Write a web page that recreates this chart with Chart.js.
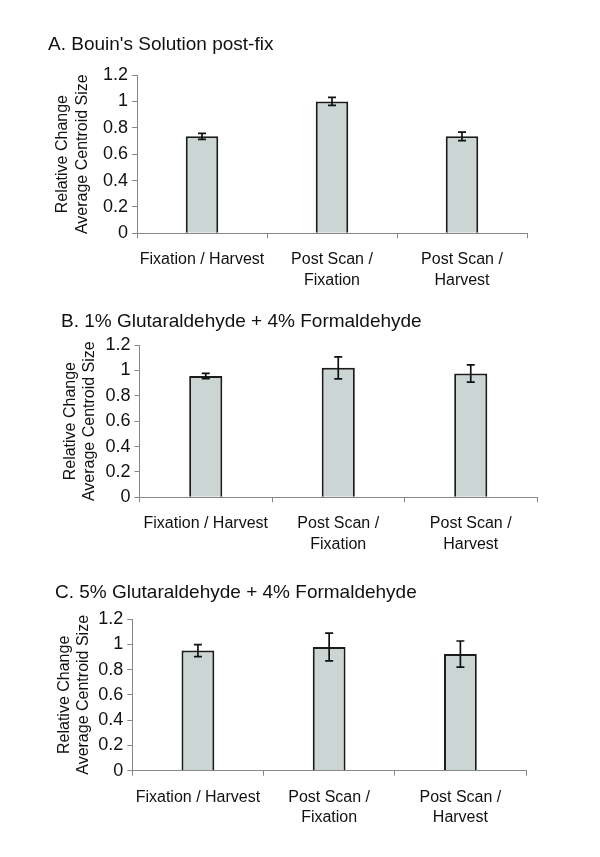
<!DOCTYPE html>
<html lang="en">
<head>
<meta charset="UTF-8">
<title>Relative Change Average Centroid Size</title>
<script src="https://cdn.jsdelivr.net/npm/chart.js"></script>
<style>
  body { margin: 0; background: #fff; width: 600px; height: 857px; overflow: hidden; }
  .panel { position: absolute; left: 0; width: 600px; }
</style>
</head>
<body>
<div class="panel" style="top:0;height:290px"><canvas id="chartA"></canvas></div>
<div class="panel" style="top:290px;height:275px"><canvas id="chartB"></canvas></div>
<div class="panel" style="top:565px;height:292px"><canvas id="chartC"></canvas></div>

<script>
const categories = [['Fixation / Harvest'], ['Post Scan /', 'Fixation'], ['Post Scan /', 'Harvest']];
const yTickLabels = ['0', '0.2', '0.4', '0.6', '0.8', '1', '1.2'];
const yTitle = ['Relative Change', 'Average Centroid Size'];

const titleA = "A. Bouin's Solution post-fix";
const meansA = [0.735, 1.0, 0.735];
const errorsA = [0.023, 0.03, 0.032];

const titleB = 'B. 1% Glutaraldehyde + 4% Formaldehyde';
const meansB = [0.955, 1.02, 0.975];
const errorsB = [0.021, 0.087, 0.068];

const titleC = 'C. 5% Glutaraldehyde + 4% Formaldehyde';
const meansC = [0.95, 0.978, 0.923];
const errorsC = [0.047, 0.11, 0.103];

const FONT = "Arial, 'Liberation Sans', sans-serif";
const AXIS_GREY = '#878787';

// draws the +/- error whiskers on top of each bar
const errorBars = {
    id: 'errorBars',
    afterDatasetsDraw(chart) {
        const ds = chart.data.datasets[0];
        const meta = chart.getDatasetMeta(0);
        const y = chart.scales.y;
        const ctx = chart.ctx;
        ctx.save();
        ctx.strokeStyle = '#111';
        ctx.lineWidth = 1.7;
        meta.data.forEach((bar, i) => {
            const top = y.getPixelForValue(ds.data[i] + ds.errors[i]);
            const bot = y.getPixelForValue(ds.data[i] - ds.errors[i]);
            ctx.beginPath();
            ctx.moveTo(bar.x, top); ctx.lineTo(bar.x, bot);
            ctx.moveTo(bar.x - 4, top); ctx.lineTo(bar.x + 4, top);
            ctx.moveTo(bar.x - 4, bot); ctx.lineTo(bar.x + 4, bot);
            ctx.stroke();
        });
        ctx.restore();
    }
};

// p: layout numbers for one panel (pixels inside its own box)
function makePanel(id, title, means, errors, p) {
    const titleLine = 19 * 1.2;
    const yTitleLine = 16 * 1.2;
    new Chart(document.getElementById(id), {
        type: 'bar',
        data: {
            labels: categories,
            datasets: [{
                data: means,
                errors: errors,
                backgroundColor: '#cbd6d4',
                borderColor: '#1c1c1c',
                borderWidth: 2,
                categoryPercentage: 1,
                barPercentage: 0.25
            }]
        },
        options: {
            responsive: true,
            maintainAspectRatio: false,
            animation: false,
            layout: { padding: { left: p.titleX, right: 600 - p.right, top: 0, bottom: 0 } },
            plugins: {
                legend: { display: false },
                tooltip: { enabled: false },
                title: {
                    display: true,
                    text: title,
                    align: 'start',
                    color: '#111',
                    font: { family: FONT, size: 19, weight: 'normal', lineHeight: 1.2 },
                    padding: { top: p.titleY - titleLine / 2, bottom: p.top - p.titleY - titleLine / 2 }
                }
            },
            scales: {
                x: {
                    grid: { drawOnChartArea: false, drawTicks: true, tickLength: 5, color: AXIS_GREY, offset: true },
                    border: { color: AXIS_GREY, width: 1 },
                    ticks: {
                        color: '#111',
                        padding: 11,
                        autoSkip: false,
                        maxRotation: 0,
                        minRotation: 0,
                        font: { family: FONT, size: 16, lineHeight: 1.3 }
                    },
                    afterFit: s => { s.height = p.height - p.bottom; }
                },
                y: {
                    min: 0,
                    max: 1.2,
                    grid: { drawOnChartArea: false, drawTicks: true, tickLength: 5, color: AXIS_GREY },
                    border: { color: AXIS_GREY, width: 1 },
                    ticks: {
                        stepSize: 0.2,
                        color: '#111',
                        padding: 4,
                        font: { family: FONT, size: 18 },
                        callback: (v, i) => yTickLabels[i]
                    },
                    title: {
                        display: true,
                        text: yTitle,
                        color: '#111',
                        font: { family: FONT, size: 16, lineHeight: 1.2 },
                        padding: { top: Math.max(0, p.yTitleX - p.titleX - yTitleLine / 2), bottom: 0 }
                    },
                    afterFit: s => { s.width = p.left - p.titleX; }
                }
            }
        },
        plugins: [errorBars]
    });
}

makePanel('chartA', titleA, meansA, errorsA,
    { height: 290, titleX: 48, titleY: 45, yTitleX: 63, left: 137, right: 527, top: 75, bottom: 233.3 });
makePanel('chartB', titleB, meansB, errorsB,
    { height: 275, titleX: 61, titleY: 32, yTitleX: 69, left: 139.5, right: 537, top: 55, bottom: 207.3 });
makePanel('chartC', titleC, meansC, errorsC,
    { height: 292, titleX: 55, titleY: 28, yTitleX: 62, left: 132.3, right: 526, top: 54, bottom: 205.7 });
</script>
</body>
</html>
